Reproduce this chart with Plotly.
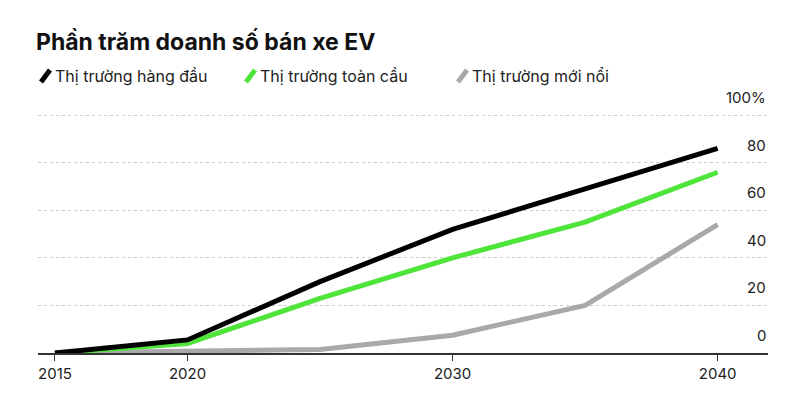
import plotly.graph_objects as go

years = [2015, 2020, 2025, 2030, 2035, 2040]
leading = [0, 5.5, 30, 52, 69, 86]
global_ = [0, 4, 23, 40, 55, 76]
emerging = [0, 0.5, 1.5, 7.5, 20, 54]
names = ["Thị trường hàng đầu", "Thị trường toàn cầu", "Thị trường mới nổi"]
colors = ["#000000", "#4ee43a", "#a9a9a9"]
yticks = [0, 20, 40, 60, 80, 100]
ylabels = ["0", "20", "40", "60", "80", "100%"]
xticks = [2015, 2020, 2030, 2040]

fig = go.Figure()
for ys, n, c in [(emerging, names[2], colors[2]), (global_, names[1], colors[1]), (leading, names[0], colors[0])]:
    fig.add_trace(go.Scatter(x=years, y=ys, mode="lines", name=n, line=dict(color=c, width=5), showlegend=False))

W, H = 800, 404
L, R, T, B = 30, 40, 106, 59
def py(p):
    return (H - B - (p - 7)) / (H - T - B)
fig.update_layout(
    width=W, height=H, margin=dict(l=L, r=R, t=T, b=B),
    plot_bgcolor="white", paper_bgcolor="white",
    font=dict(family="Inter, Liberation Sans, sans-serif", color="#222", size=15),
    xaxis=dict(range=[2014.36, 2041.9], tickvals=xticks, ticktext=[str(v) for v in xticks],
               showgrid=False, zeroline=False, ticks="outside", ticklen=6, tickcolor="#333",
               showline=True, linecolor="#333", linewidth=1.5, tickfont=dict(size=15)),
    yaxis=dict(range=[0, 100.5], tickvals=yticks, showticklabels=False, showgrid=True,
               gridcolor="#cccccc", griddash="dot", gridwidth=1, zeroline=False, fixedrange=True),
    title=dict(text="<b>Phần trăm doanh số bán xe EV</b>", x=0.035, xanchor="left", y=0.915, yanchor="middle",
               font=dict(size=23, color="#111")),
)
for v, t in zip(yticks, ylabels):
    fig.add_annotation(x=1, xref="paper", xanchor="right", y=v, yref="y", yanchor="bottom", yshift=6,
                       text=t, showarrow=False, font=dict(size=15))
legx = [33, 238, 450]
for x0, n, c in zip(legx, names, colors):
    fig.add_shape(type="line", xref="paper", yref="paper",
                  x0=(x0 - L) / (W - L - R), x1=(x0 + 9 - L) / (W - L - R),
                  y0=py(81), y1=py(69), line=dict(color=c, width=5))
    fig.add_annotation(xref="paper", yref="paper", x=(x0 + 12 - L) / (W - L - R), xanchor="left",
                       y=py(75), yanchor="middle", text=n, showarrow=False,
                       font=dict(size=16, color="#222"))
fig.write_html("out.html")
